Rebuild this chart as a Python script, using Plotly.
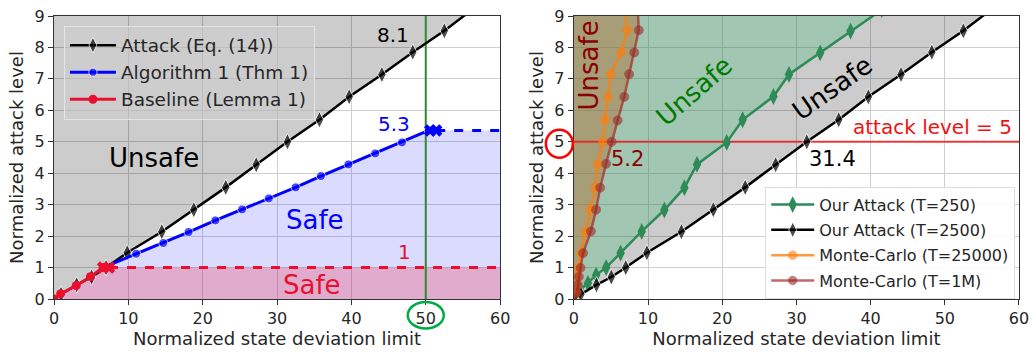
import plotly.graph_objects as go

# ---------------- data ----------------
# Attack (Eq. 14) / Our Attack (T=2500)
attack_x = [0.0, 0.95, 3.05, 5.05, 7.0, 9.85, 14.5, 18.8, 23.1, 27.2, 31.4, 35.7, 39.7, 44.1, 48.25, 52.5, 56.5]
attack_y = [0.0, 0.15, 0.45, 0.70, 1.0, 1.47, 2.14, 2.84, 3.55, 4.27, 5.00, 5.70, 6.43, 7.14, 7.85, 8.53, 9.25]

# Algorithm 1 (Thm 1)
alg_x = [7.4, 11.05, 14.7, 18.1, 21.7, 25.3, 28.9, 32.5, 35.9, 39.6, 43.2, 46.8, 50.4]
alg_y = [1.08, 1.44, 1.78, 2.13, 2.50, 2.85, 3.20, 3.55, 3.91, 4.28, 4.63, 4.98, 5.36]
alg_cap_x = [50.6, 51.4]
alg_cap_y = [5.36, 5.36]
alg_ext_x = [51.4, 60.0]
alg_ext_y = [5.36, 5.36]

# Baseline (Lemma 1)
base_x = [0.0, 0.9, 3.0, 4.9, 6.6]
base_y = [0.0, 0.17, 0.43, 0.71, 1.0]
base_cap_x = [6.6, 7.4]
base_cap_y = [1.0, 1.0]
base_ext_x = [7.4, 60.0]
base_ext_y = [1.0, 1.0]

deviation_marker = 50
attack_level = 5

# Our Attack (T=250)
t250_x = [0.8, 1.9, 3.0, 4.35, 6.3, 9.15, 12.2, 14.9, 16.6, 20.6, 22.75, 26.9, 29.0, 33.2, 37.3, 41.5]
t250_y = [0.27, 0.50, 0.76, 1.00, 1.46, 2.15, 2.83, 3.54, 4.28, 4.98, 5.70, 6.44, 7.14, 7.83, 8.52, 9.20]

# Monte-Carlo (T=25000)
mc25k_x = [0.0, 0.3, 0.4, 0.5, 0.6, 0.95, 1.55, 2.2, 2.85, 3.2, 3.9, 4.2, 4.6, 4.95, 6.4, 7.2, 6.8]
mc25k_y = [0.0, 0.2, 0.45, 0.71, 0.99, 1.46, 2.15, 2.84, 3.54, 4.28, 5.0, 5.7, 6.43, 7.15, 7.85, 8.55, 9.3]

# Monte-Carlo (T=1M)
mc1m_x = [0.0, 0.45, 0.55, 0.68, 0.9, 1.25, 2.3, 3.0, 3.55, 4.35, 5.1, 5.9, 6.8, 7.45, 8.15, 8.75, 8.6]
mc1m_y = [0.0, 0.2, 0.45, 0.71, 0.99, 1.46, 2.15, 2.84, 3.54, 4.30, 5.0, 5.68, 6.43, 7.15, 7.84, 8.55, 9.3]

x_ticks = [0, 10, 20, 30, 40, 50, 60]
y_ticks = [0, 1, 2, 3, 4, 5, 6, 7, 8, 9]
X_MAX = 60
Y_MAX = 9

FONT = "DejaVu Sans"
TXT = "#262626"

fig = go.Figure()

def sizes(n, s, first=None):
    out = [s] * n
    if first is not None:
        out[0] = first
    return out

DIA = 12
CIR = 9

# ---------------- left panel ----------------
top = Y_MAX + 0.25
fig.add_trace(go.Scatter(x=attack_x + [0], y=attack_y + [top], fill="toself", mode="none",
                         fillcolor="rgba(0,0,0,0.2)", showlegend=False, hoverinfo="skip",
                         xaxis="x", yaxis="y"))
fig.add_trace(go.Scatter(x=base_x + alg_x + alg_ext_x[-1:] + [X_MAX], y=base_y + alg_y + alg_ext_y[-1:] + [0],
                         fill="toself", mode="none", fillcolor="rgba(0,0,255,0.14)",
                         showlegend=False, hoverinfo="skip", xaxis="x", yaxis="y"))
fig.add_trace(go.Scatter(x=base_x + base_ext_x + [X_MAX], y=base_y + base_ext_y + [0],
                         fill="toself", mode="none", fillcolor="rgba(235,60,85,0.3)",
                         showlegend=False, hoverinfo="skip", xaxis="x", yaxis="y"))
fig.add_trace(go.Scatter(x=[deviation_marker, deviation_marker], y=[0, Y_MAX], mode="lines",
                         line=dict(color="#2e8b2e", width=2), showlegend=False, hoverinfo="skip",
                         xaxis="x", yaxis="y"))

RED = "#e8102e"
fig.add_trace(go.Scatter(x=attack_x, y=attack_y, mode="lines+markers", name="Attack (Eq. (14))",
                         line=dict(color="black", width=2.5),
                         marker=dict(symbol="diamond-tall", size=sizes(len(attack_x), DIA, 0), color="black"),
                         legend="legend", xaxis="x", yaxis="y"))
fig.add_trace(go.Scatter(x=alg_x, y=alg_y, mode="lines+markers", name="Algorithm 1 (Thm 1)",
                         line=dict(color="#0000ff", width=3),
                         marker=dict(symbol="circle", size=sizes(len(alg_x), CIR, 0), color="#0000ff"),
                         legend="legend", xaxis="x", yaxis="y"))
fig.add_trace(go.Scatter(x=alg_ext_x, y=alg_ext_y, mode="lines", line=dict(color="#0000ff", width=3, dash="dash"),
                         showlegend=False, xaxis="x", yaxis="y"))
fig.add_trace(go.Scatter(x=alg_cap_x, y=alg_cap_y, mode="markers",
                         marker=dict(symbol="x", size=11, color="#0000ff"),
                         showlegend=False, xaxis="x", yaxis="y"))
fig.add_trace(go.Scatter(x=base_x, y=base_y, mode="lines+markers", name="Baseline (Lemma 1)",
                         line=dict(color=RED, width=3),
                         marker=dict(symbol="circle", size=CIR, color=RED),
                         legend="legend", xaxis="x", yaxis="y"))
fig.add_trace(go.Scatter(x=base_ext_x, y=base_ext_y, mode="lines", line=dict(color=RED, width=3, dash="dash"),
                         showlegend=False, xaxis="x", yaxis="y"))
fig.add_trace(go.Scatter(x=base_cap_x, y=base_cap_y, mode="markers",
                         marker=dict(symbol="x", size=11, color=RED),
                         showlegend=False, xaxis="x", yaxis="y"))

# ---------------- right panel ----------------
fig.add_trace(go.Scatter(x=attack_x + [0], y=attack_y + [top], fill="toself", mode="none",
                         fillcolor="rgba(0,0,0,0.2)", showlegend=False, hoverinfo="skip",
                         xaxis="x2", yaxis="y2"))
fig.add_trace(go.Scatter(x=[0] + t250_x + [0], y=[0] + t250_y + [top], fill="toself", mode="none",
                         fillcolor="rgba(64,190,124,0.3)", showlegend=False, hoverinfo="skip",
                         xaxis="x2", yaxis="y2"))
fig.add_trace(go.Scatter(x=mc1m_x + [0], y=mc1m_y + [top], fill="toself", mode="none",
                         fillcolor="rgba(176,107,47,0.45)", showlegend=False, hoverinfo="skip",
                         xaxis="x2", yaxis="y2"))
fig.add_trace(go.Scatter(x=[0, X_MAX], y=[attack_level, attack_level], mode="lines",
                         line=dict(color="rgba(230,30,30,0.85)", width=2), showlegend=False,
                         hoverinfo="skip", xaxis="x2", yaxis="y2"))

fig.add_trace(go.Scatter(x=t250_x, y=t250_y, mode="lines+markers", name="Our Attack (T=250)",
                         line=dict(color="#2e8b57", width=2.5),
                         marker=dict(symbol="diamond-tall", size=DIA, color="#2e8b57"),
                         legend="legend2", legendgroup="d", xaxis="x2", yaxis="y2"))
fig.add_trace(go.Scatter(x=attack_x, y=attack_y, mode="lines+markers", name="Our Attack (T=2500)",
                         line=dict(color="black", width=2.5),
                         marker=dict(symbol="diamond-tall", size=sizes(len(attack_x), DIA, 0), color="black"),
                         legend="legend2", legendgroup="e", xaxis="x2", yaxis="y2"))
fig.add_trace(go.Scatter(x=mc25k_x, y=mc25k_y, mode="lines+markers", name="Monte-Carlo (T=25000)",
                         line=dict(color="rgba(255,127,14,0.8)", width=2.5),
                         marker=dict(symbol="circle", size=sizes(len(mc25k_x), CIR, 0), color="rgba(255,127,14,0.85)"),
                         legend="legend2", legendgroup="f", xaxis="x2", yaxis="y2"))
fig.add_trace(go.Scatter(x=mc1m_x, y=mc1m_y, mode="lines+markers", name="Monte-Carlo (T=1M)",
                         line=dict(color="rgba(165,42,42,0.7)", width=2.5),
                         marker=dict(symbol="circle", size=sizes(len(mc1m_x), CIR, 0), color="rgba(150,45,40,0.85)"),
                         legend="legend2", legendgroup="g", xaxis="x2", yaxis="y2"))

# ---------------- axes ----------------
axis_common = dict(
    range=[0, X_MAX], tickmode="array", tickvals=x_ticks, ticks="outside", ticklen=5, tickwidth=1.2,
    tickcolor="#333", showline=True, linecolor="#333", linewidth=1.2, mirror=True,
    showgrid=True, gridcolor="#cfcfcf", gridwidth=1.3, zeroline=False, ticklabeloverflow="allow",
    tickfont=dict(family=FONT, size=16, color=TXT),
    title=dict(text="Normalized state deviation limit", font=dict(family=FONT, size=18, color=TXT), standoff=4),
)
yaxis_common = dict(
    range=[0, Y_MAX], tickmode="array", tickvals=y_ticks, ticks="outside", ticklen=5, tickwidth=1.2,
    tickcolor="#333", showline=True, linecolor="#333", linewidth=1.2, mirror=True,
    showgrid=True, gridcolor="#cfcfcf", gridwidth=1.3, zeroline=False, ticklabeloverflow="allow",
    tickfont=dict(family=FONT, size=16, color=TXT),
    title=dict(text="Normalized attack level", font=dict(family=FONT, size=18, color=TXT), standoff=6),
)

left_dom = [0.0, 0.4623]
right_dom = [0.5387, 1.0]
fig.update_layout(
    xaxis=dict(domain=left_dom, anchor="y", **axis_common),
    yaxis=dict(domain=[0, 1], anchor="x", **yaxis_common),
    xaxis2=dict(domain=right_dom, anchor="y2", **axis_common),
    yaxis2=dict(domain=[0, 1], anchor="x2", **yaxis_common),
)

# ---------------- annotations ----------------
def ann(x, y, text, color, size, xref="x", yref="y", angle=0):
    fig.add_annotation(x=x, y=y, xref=xref, yref=yref, text=text, showarrow=False,
                       font=dict(family=FONT, size=size, color=color), textangle=angle,
                       xanchor="center", yanchor="middle")

ann(13.4, 4.49, "Unsafe", "black", 26)
ann(35.1, 2.52, "Safe", "#0000ff", 26)
ann(34.7, 0.43, "Safe", RED, 26)
ann(47.2, 1.51, "1", RED, 20)
ann(45.6, 8.41, "8.1", "black", 20)
ann(45.7, 5.57, "5.3", "#0000ff", 20)

ann(2.1, 7.44, "Unsafe", "#8b0000", 26, "x2", "y2", -90)
ann(16.2, 6.62, "Unsafe", "#007a00", 26, "x2", "y2", -41)
ann(34.8, 6.72, "Unsafe", "black", 26, "x2", "y2", -35)
ann(7.25, 4.44, "5.2", "#8b0000", 21, "x2", "y2")
ann(34.8, 4.44, "31.4", "black", 21, "x2", "y2")
ann(48.35, 5.47, "attack level = 5", "#f01010", 20, "x2", "y2")

# highlight circles around tick labels
fig.add_shape(type="circle", xref="x domain", yref="y domain",
              xsizemode="pixel", ysizemode="pixel",
              xanchor=deviation_marker / X_MAX, yanchor=0,
              x0=-18, x1=18, y0=-29.5, y1=-3,
              line=dict(color="#00aa44", width=2.5))
fig.add_shape(type="circle", xref="x2 domain", yref="y2 domain",
              xsizemode="pixel", ysizemode="pixel",
              xanchor=0, yanchor=attack_level / Y_MAX,
              x0=-28, x1=-1, y0=-16, y1=12,
              line=dict(color="#ff0000", width=2.5))

fig.update_layout(
    width=1036, height=352,
    margin=dict(l=54, r=13, t=7, b=53),
    paper_bgcolor="white", plot_bgcolor="white",
    font=dict(family=FONT, color=TXT),
    legend=dict(x=0.0103, y=0.966, xanchor="left", yanchor="top",
                bgcolor="rgba(205,205,205,0.6)", bordercolor="#e4e4e4", borderwidth=1,
                font=dict(family=FONT, size=18.5, color=TXT), itemwidth=46),
    legend2=dict(x=0.737, y=0.397, xanchor="left", yanchor="top",
                 bgcolor="rgba(255,255,255,0.9)", bordercolor="#dddddd", borderwidth=1,
                 font=dict(family=FONT, size=16, color=TXT), itemwidth=43,
                 traceorder="grouped", tracegroupgap=1.5),
    showlegend=True,
)

fig.write_html("out.html", config={"displayModeBar": False},
               post_script="document.body.style.margin='0px';")
